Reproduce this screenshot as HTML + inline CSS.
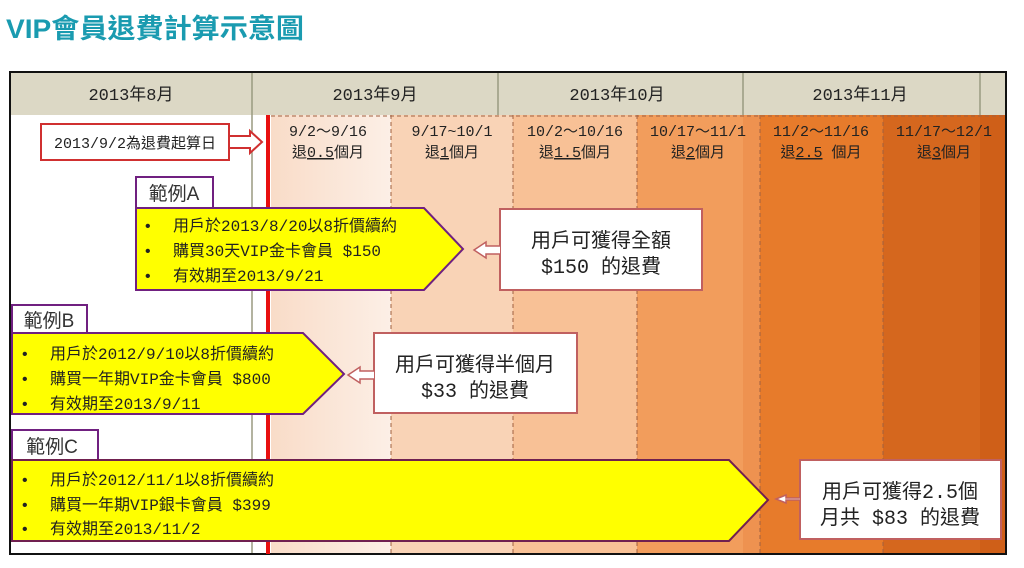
<!DOCTYPE html>
<html><head><meta charset="utf-8"><style>
html,body{margin:0;padding:0;background:#fff;width:1024px;height:568px;overflow:hidden}
svg text{font-family:"Liberation Mono","Noto Sans CJK TC",monospace}
</style></head><body>
<svg width="1024" height="568" xmlns="http://www.w3.org/2000/svg">
<defs>
<linearGradient id="g1" x1="0" x2="1"><stop offset="0" stop-color="#f9dcc8"/><stop offset="1" stop-color="#fcefe6"/></linearGradient>
</defs>
<text x="6" y="38" font-size="27" font-weight="bold" fill="#1a9bb0" style="font-family:'Liberation Sans','Noto Sans CJK TC',sans-serif" textLength="298" lengthAdjust="spacingAndGlyphs">VIP會員退費計算示意圖</text>
<!-- bands -->
<rect x="271" y="115" width="120" height="439" fill="url(#g1)"/>
<rect x="391" y="115" width="122" height="439" fill="#f9d3b6"/>
<rect x="513" y="115" width="124" height="439" fill="#f8c196"/>
<rect x="637" y="115" width="106" height="439" fill="#f29d5c"/>
<rect x="743" y="115" width="17" height="439" fill="#ee9250"/>
<rect x="760" y="115" width="123" height="439" fill="#e77b2b"/>
<rect x="883" y="115" width="97" height="439" fill="#d5671e"/>
<rect x="980" y="115" width="26" height="439" fill="#cf5f18"/>
<g stroke="#a06040" stroke-width="1" stroke-dasharray="4,3">
<line x1="391" y1="115" x2="391" y2="554"/><line x1="513" y1="115" x2="513" y2="554"/>
<line x1="637" y1="115" x2="637" y2="554"/><line x1="760" y1="115" x2="760" y2="554"/>
<line x1="883" y1="115" x2="883" y2="554"/><line x1="271" y1="116" x2="1006" y2="116"/>
</g>
<!-- header -->
<rect x="10" y="72" width="996" height="43" fill="#dcd8c5"/>
<g stroke="#9a9a80" stroke-width="1.5">
<line x1="252" y1="72" x2="252" y2="554"/><line x1="498" y1="72" x2="498" y2="115"/>
<line x1="743" y1="72" x2="743" y2="115"/><line x1="980" y1="72" x2="980" y2="115"/>
</g>
<g font-size="17" text-anchor="middle" fill="#222">
<text x="131" y="100">2013年8月</text><text x="375" y="100">2013年9月</text>
<text x="617" y="100">2013年10月</text><text x="860" y="100">2013年11月</text>
</g>
<rect x="10" y="72" width="996" height="482" fill="none" stroke="#111" stroke-width="2"/>
<rect x="266" y="115" width="4" height="439" fill="#e81010"/>
<!-- band labels -->
<g font-size="15" text-anchor="middle" fill="#222">
<text x="328" y="136">9/2～9/16</text><text x="328" y="157">退<tspan text-decoration="underline">0.5</tspan>個月</text>
<text x="452" y="136">9/17~10/1</text><text x="452" y="157">退<tspan text-decoration="underline">1</tspan>個月</text>
<text x="575" y="136">10/2～10/16</text><text x="575" y="157">退<tspan text-decoration="underline">1.5</tspan>個月</text>
<text x="698" y="136">10/17～11/1</text><text x="698" y="157">退<tspan text-decoration="underline">2</tspan>個月</text>
<text x="821" y="136">11/2～11/16</text><text x="821" y="157">退<tspan text-decoration="underline">2.5</tspan> 個月</text>
<text x="944" y="136">11/17～12/1</text><text x="944" y="157">退<tspan text-decoration="underline">3</tspan>個月</text>
</g>
<!-- start date box -->
<rect x="41" y="124" width="188" height="36" fill="#fff" stroke="#d03030" stroke-width="2"/>
<text x="135" y="148" font-size="15" text-anchor="middle" fill="#222">2013/9/2為退費起算日</text>
<path d="M229,136 H250 V131 L262,142 L250,153 V148 H229 Z" fill="#fff" stroke="#d03030" stroke-width="2"/>
<!-- A -->
<rect x="136" y="177" width="77" height="31" fill="#fff" stroke="#702080" stroke-width="2"/>
<text x="174" y="200" font-size="19" text-anchor="middle" fill="#333" style="font-family:'Liberation Sans','Noto Sans CJK TC',sans-serif">範例A</text>
<path d="M136,208 H424 L463,249 L424,290 H136 Z" fill="#ffff00" stroke="#702080" stroke-width="2"/>
<g font-size="16" fill="#222"><text x="143" y="231">•</text><text x="173" y="231">用戶於2013/8/20以8折價續約</text>
<text x="143" y="256">•</text><text x="173" y="256">購買30天VIP金卡會員 $150</text>
<text x="143" y="281">•</text><text x="173" y="281">有效期至2013/9/21</text></g>
<rect x="500" y="209" width="202" height="81" fill="#fff" stroke="#c06060" stroke-width="2"/>
<path d="M500,246 H486 V242 L474,250 L486,258 V254 H500" fill="#fff" stroke="#c06060" stroke-width="1.5"/>
<g font-size="20" text-anchor="middle" fill="#222"><text x="601" y="247">用戶可獲得全額</text><text x="601" y="273">$150 的退費</text></g>
<!-- B -->
<rect x="12" y="305" width="75" height="28" fill="#fff" stroke="#702080" stroke-width="2"/>
<text x="49" y="327" font-size="19" text-anchor="middle" fill="#333" style="font-family:'Liberation Sans','Noto Sans CJK TC',sans-serif">範例B</text>
<path d="M12,333 H303 L344,374 L303,414 H12 Z" fill="#ffff00" stroke="#702080" stroke-width="2"/>
<g font-size="16" fill="#222"><text x="20" y="359">•</text><text x="50" y="359">用戶於2012/9/10以8折價續約</text>
<text x="20" y="384">•</text><text x="50" y="384">購買一年期VIP金卡會員 $800</text>
<text x="20" y="409">•</text><text x="50" y="409">有效期至2013/9/11</text></g>
<rect x="374" y="333" width="203" height="80" fill="#fff" stroke="#c06060" stroke-width="2"/>
<path d="M374,371 H360 V367 L348,375 L360,383 V379 H374" fill="#fff" stroke="#c06060" stroke-width="1.5"/>
<g font-size="20" text-anchor="middle" fill="#222"><text x="475" y="371">用戶可獲得半個月</text><text x="475" y="397">$33 的退費</text></g>
<!-- C -->
<rect x="12" y="430" width="86" height="30" fill="#fff" stroke="#702080" stroke-width="2"/>
<text x="52" y="453" font-size="19" text-anchor="middle" fill="#333" style="font-family:'Liberation Sans','Noto Sans CJK TC',sans-serif">範例C</text>
<path d="M12,460 H729 L768,500 L729,541 H12 Z" fill="#ffff00" stroke="#702050" stroke-width="2"/>
<g font-size="16" fill="#222"><text x="20" y="485">•</text><text x="50" y="485">用戶於2012/11/1以8折價續約</text>
<text x="20" y="510">•</text><text x="50" y="510">購買一年期VIP銀卡會員 $399</text>
<text x="20" y="534">•</text><text x="50" y="534">有效期至2013/11/2</text></g>
<rect x="800" y="460" width="201" height="79" fill="#fff" stroke="#c06060" stroke-width="2"/>
<path d="M800,498 H786 V495 L776,499 L786,503 V500 H800" fill="#fff" stroke="#c06060" stroke-width="1.5"/>
<g font-size="20" text-anchor="middle" fill="#222"><text x="900" y="498">用戶可獲得2.5個</text><text x="900" y="524">月共 $83 的退費</text></g>
</svg>
</body></html>
